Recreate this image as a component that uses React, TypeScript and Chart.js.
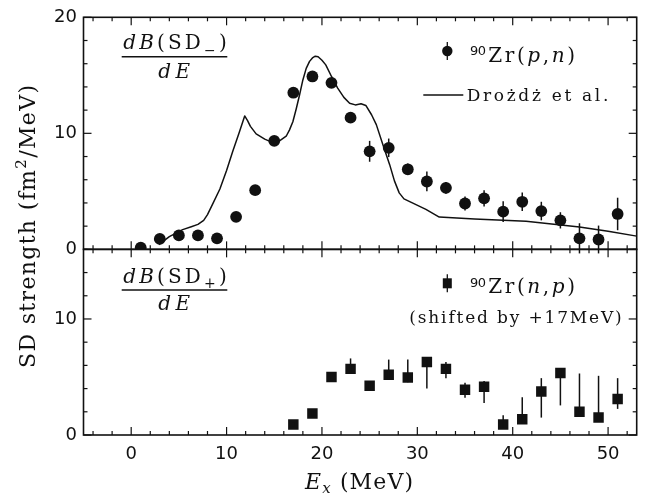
import React, { useEffect, useRef } from 'react';
import { Chart, registerables } from 'chart.js';

Chart.register(...registerables);

// ---- data ----
const pnEnergy = [1, 3, 5, 7, 9, 11, 13, 15, 17, 19, 21, 23, 25, 27, 29, 31, 33, 35, 37, 39, 41, 43, 45, 47, 49, 51];
const pnStrength = [0.15, 0.9, 1.2, 1.2, 0.95, 2.8, 5.1, 9.35, 13.5, 14.9, 14.35, 11.35, 8.45, 8.75, 6.9, 5.85, 5.3, 3.95, 4.4, 3.25, 4.1, 3.3, 2.5, 0.95, 0.85, 3.05];
const pnError = [0.2, 0.2, 0.2, 0.2, 0.2, 0.3, 0.3, 0.3, 0.3, 0.3, 0.3, 0.4, 0.9, 0.8, 0.5, 0.85, 0.5, 0.6, 0.7, 0.9, 0.8, 0.8, 0.7, 1.3, 1.2, 1.4];

const npEnergy = [17, 19, 21, 23, 25, 27, 29, 31, 33, 35, 37, 39, 41, 43, 45, 47, 49, 51];
const npStrength = [0.9, 1.85, 5.0, 5.7, 4.25, 5.2, 4.95, 6.3, 5.7, 3.9, 4.15, 0.9, 1.35, 3.75, 5.35, 2.0, 1.5, 3.1];
const npErrUp = [0.2, 0.2, 0.3, 0.9, 0.3, 1.3, 1.55, 0.4, 0.6, 0.6, 0.5, 0.8, 1.9, 1.15, 0.4, 3.3, 3.6, 1.8];
const npErrDown = [0.2, 0.2, 0.3, 0.3, 0.3, 0.4, 0.4, 2.3, 0.8, 0.7, 1.4, 0.3, 0.3, 2.25, 2.8, 0.3, 0.3, 0.85];

const theoryEnergy = [2.9, 4.0, 5.4, 6.3, 7.0, 7.6, 8.0, 8.6, 9.3, 10.0, 10.65, 11.3, 11.9, 12.2, 12.5, 13.1, 14.0, 14.85, 15.55, 16.25, 16.6, 16.95, 17.3, 17.65, 18.0, 18.35, 18.7, 19.0, 19.3, 19.6, 20.0, 20.4, 21.0, 21.65, 22.3, 22.9, 23.5, 24.1, 24.6, 25.2, 25.7, 26.4, 27.1, 27.6, 28.1, 28.6, 30.9, 32.3, 36.0, 41.4, 47.0, 50.0, 53.0];
const theoryStrength = [0.4, 1.1, 1.7, 1.95, 2.15, 2.5, 3.0, 4.0, 5.2, 6.8, 8.45, 10.0, 11.5, 11.1, 10.6, 9.95, 9.5, 9.2, 9.35, 9.75, 10.3, 11.0, 12.1, 13.3, 14.6, 15.6, 16.2, 16.5, 16.65, 16.6, 16.3, 15.9, 14.9, 13.9, 13.1, 12.6, 12.45, 12.55, 12.4, 11.6, 10.75, 9.0, 7.3, 5.9, 4.87, 4.35, 3.44, 2.78, 2.62, 2.43, 1.92, 1.57, 1.14];

const xTickValues = [0, 10, 20, 30, 40, 50];
const topTickValues = [0, 10, 20];
const bottomTickValues = [0, 10];

const X_MIN = -5;
const X_MAX = 53;
const TOP_MAX = 20;
const BOTTOM_MAX = 16;
const MINOR_STEP = 2;

const INK = '#111';
const SERIF = '"DejaVu Serif", serif';
const SANS = '"DejaVu Sans", sans-serif';

type Run = { t: string; f: string; dy?: number };

function naturalWidth(ctx: CanvasRenderingContext2D, runs: Run[]) {
  let w = 0;
  let n = 0;
  for (const r of runs) {
    ctx.font = r.f;
    for (const ch of Array.from(r.t)) {
      w += ctx.measureText(ch).width;
      n += 1;
    }
  }
  return { w, n };
}

function drawFit(ctx: CanvasRenderingContext2D, runs: Run[], x0: number, x1: number, y: number) {
  const { w, n } = naturalWidth(ctx, runs);
  const ls = n > 1 ? (x1 - x0 - w) / (n - 1) : 0;
  let x = x0;
  ctx.textAlign = 'left';
  ctx.textBaseline = 'alphabetic';
  for (const r of runs) {
    ctx.font = r.f;
    for (const ch of Array.from(r.t)) {
      ctx.fillText(ch, x, y + (r.dy || 0));
      x += ctx.measureText(ch).width + ls;
    }
  }
}

function seg(ctx: CanvasRenderingContext2D, x1: number, y1: number, x2: number, y2: number) {
  ctx.beginPath();
  ctx.moveTo(x1, y1);
  ctx.lineTo(x2, y2);
  ctx.stroke();
}

const errorBarPlugin = {
  id: 'errorBars',
  afterDatasetsDraw(chart: any) {
    const ctx: CanvasRenderingContext2D = chart.ctx;
    const xs = chart.scales.x;
    const yt = chart.scales.y;
    const yb = chart.scales.y2;
    ctx.save();
    ctx.strokeStyle = INK;
    ctx.lineWidth = 1.5;
    pnEnergy.forEach((e, i) => {
      const px = xs.getPixelForValue(e);
      seg(ctx, px, yt.getPixelForValue(pnStrength[i] - pnError[i]), px, yt.getPixelForValue(pnStrength[i] + pnError[i]));
    });
    npEnergy.forEach((e, i) => {
      const px = xs.getPixelForValue(e);
      seg(ctx, px, yb.getPixelForValue(npStrength[i] - npErrDown[i]), px, yb.getPixelForValue(npStrength[i] + npErrUp[i]));
    });
    ctx.restore();
  },
};

const framePlugin = {
  id: 'frameAndText',
  afterDraw(chart: any) {
    const ctx: CanvasRenderingContext2D = chart.ctx;
    const xs = chart.scales.x;
    const yt = chart.scales.y;
    const yb = chart.scales.y2;
    const L = xs.left;
    const R = xs.right;
    ctx.save();
    ctx.strokeStyle = INK;
    ctx.fillStyle = INK;
    for (const ys of [yt, yb]) {
      ctx.lineWidth = 1.6;
      ctx.strokeRect(L, ys.top, R - L, ys.bottom - ys.top);
      ctx.lineWidth = 1.2;
      for (let v = Math.ceil(X_MIN / MINOR_STEP) * MINOR_STEP; v <= X_MAX; v += MINOR_STEP) {
        const px = xs.getPixelForValue(v);
        const len = v % 10 === 0 ? 8 : 4;
        seg(ctx, px, ys.top, px, ys.top + len);
        seg(ctx, px, ys.bottom, px, ys.bottom - len);
      }
      for (let v = 0; v <= ys.max; v += MINOR_STEP) {
        const py = ys.getPixelForValue(v);
        const len = v % 10 === 0 ? 8 : 4;
        seg(ctx, L, py, L + len, py);
        seg(ctx, R, py, R - len, py);
      }
    }

    // fraction labels
    const it20 = `italic 20px ${SERIF}`;
    const rm20 = `20px ${SERIF}`;
    const sub14 = `14px ${SERIF}`;
    drawFit(ctx, [
      { t: 'dB', f: it20 }, { t: '(SD', f: rm20 }, { t: '\u2212', f: sub14, dy: 6 }, { t: ')', f: rm20 },
    ], 123.3, 226.7, 48.5);
    ctx.lineWidth = 1.5;
    seg(ctx, 121.7, 56.7, 227.3, 56.7);
    drawFit(ctx, [{ t: 'dE', f: it20 }], 158.3, 190, 78);

    drawFit(ctx, [
      { t: 'dB', f: it20 }, { t: '(SD', f: rm20 }, { t: '+', f: sub14, dy: 4.5 }, { t: ')', f: rm20 },
    ], 123.3, 226.7, 283.3);
    seg(ctx, 121.7, 290, 227.3, 290);
    drawFit(ctx, [{ t: 'dE', f: it20 }], 158.3, 190, 310);

    // legend top
    const cy1 = 51;
    ctx.beginPath();
    ctx.arc(447.3, cy1, 5.2, 0, Math.PI * 2);
    ctx.fill();
    ctx.lineWidth = 1.3;
    seg(ctx, 447.3, cy1 - 9, 447.3, cy1 + 9);
    drawFit(ctx, [{ t: '90', f: `13px ${SANS}` }], 470, 486, cy1 + 4);
    drawFit(ctx, [
      { t: 'Zr(', f: rm20 }, { t: 'p', f: it20 }, { t: ',', f: rm20 }, { t: 'n', f: it20 }, { t: ')', f: rm20 },
    ], 488.3, 575, cy1 + 10.5);
    ctx.lineWidth = 1.5;
    seg(ctx, 423.3, 95, 463.3, 95);
    drawFit(ctx, [{ t: 'Drożdż et al.', f: `17px ${SERIF}` }], 466.7, 608.3, 100.5);

    // legend bottom
    const cy2 = 283.3;
    ctx.fillRect(447.3 - 4.5, cy2 - 5, 9, 10);
    ctx.lineWidth = 1.3;
    seg(ctx, 447.3, cy2 - 9, 447.3, cy2 + 9);
    drawFit(ctx, [{ t: '90', f: `13px ${SANS}` }], 470, 486, cy2 + 3.5);
    drawFit(ctx, [
      { t: 'Zr(', f: rm20 }, { t: 'n', f: it20 }, { t: ',', f: rm20 }, { t: 'p', f: it20 }, { t: ')', f: rm20 },
    ], 488.3, 575, cy2 + 10);
    drawFit(ctx, [{ t: '(shifted by +17MeV)', f: `17px ${SERIF}` }], 409.3, 621.7, 322.5);

    // x axis title
    drawFit(ctx, [
      { t: 'E', f: `italic 22px ${SERIF}` }, { t: 'x', f: `italic 15px ${SERIF}`, dy: 4 }, { t: ' (MeV)', f: `22px ${SERIF}` },
    ], 305, 413, 489);

    // y axis title
    ctx.save();
    ctx.translate(35, 368);
    ctx.rotate(-Math.PI / 2);
    drawFit(ctx, [
      { t: 'SD strength (fm', f: `22px ${SERIF}` }, { t: '2', f: `15px ${SERIF}`, dy: -9 }, { t: '/MeV)', f: `22px ${SERIF}` },
    ], 0, 283, 0);
    ctx.restore();

    ctx.restore();
  },
};

export default function App() {
  const ref = useRef<HTMLCanvasElement | null>(null);

  useEffect(() => {
    if (!ref.current) return;
    const tickFont = { family: SANS, size: 18 };
    const chart = new Chart(ref.current, {
      type: 'scatter',
      data: {
        datasets: [
          {
            label: 'Drożdż et al.',
            data: theoryEnergy.map((x, i) => ({ x, y: theoryStrength[i] })),
            yAxisID: 'y',
            showLine: true,
            borderColor: INK,
            borderWidth: 1.5,
            borderJoinStyle: 'round',
            pointRadius: 0,
            tension: 0,
            fill: false,
          },
          {
            label: '90Zr(p,n)',
            data: pnEnergy.map((x, i) => ({ x, y: pnStrength[i] })),
            yAxisID: 'y',
            pointStyle: 'circle',
            pointRadius: 5.9,
            pointBorderWidth: 0,
            backgroundColor: INK,
            borderColor: INK,
          },
          {
            label: '90Zr(n,p)',
            data: npEnergy.map((x, i) => ({ x, y: npStrength[i] })),
            yAxisID: 'y2',
            pointStyle: 'rect',
            pointRadius: 7.4,
            pointBorderWidth: 0,
            backgroundColor: INK,
            borderColor: INK,
          },
        ],
      },
      options: {
        animation: false,
        responsive: false,
        events: [],
        layout: { padding: { left: 0, right: 10.3, top: 15.7, bottom: 0 } },
        plugins: { legend: { display: false }, tooltip: { enabled: false } },
        scales: {
          x: {
            type: 'linear',
            position: 'bottom',
            min: X_MIN,
            max: X_MAX,
            grid: { display: false, drawTicks: false },
            border: { display: false },
            ticks: { font: tickFont, color: INK, padding: 9 },
            afterBuildTicks: (s: any) => { s.ticks = xTickValues.map((v) => ({ value: v })); },
            afterFit: (s: any) => { s.height = 62; },
          },
          y: {
            type: 'linear',
            position: 'left',
            stack: 'panels',
            stackWeight: TOP_MAX,
            weight: 1,
            min: 0,
            max: TOP_MAX,
            grid: { display: false, drawTicks: false },
            border: { display: false },
            ticks: { font: tickFont, color: INK, padding: 6.5 },
            afterBuildTicks: (s: any) => { s.ticks = topTickValues.map((v) => ({ value: v })); },
            afterFit: (s: any) => { s.width = 83.5; },
          },
          y2: {
            type: 'linear',
            position: 'left',
            stack: 'panels',
            stackWeight: BOTTOM_MAX,
            weight: 0,
            min: 0,
            max: BOTTOM_MAX,
            grid: { display: false, drawTicks: false },
            border: { display: false },
            ticks: { font: tickFont, color: INK, padding: 6.5 },
            afterBuildTicks: (s: any) => { s.ticks = bottomTickValues.map((v) => ({ value: v })); },
            afterFit: (s: any) => { s.width = 83.5; },
          },
        },
      } as any,
      plugins: [errorBarPlugin, framePlugin],
    });
    return () => chart.destroy();
  }, []);

  return (
    <div style={{ position: 'absolute', left: 0, top: 0, width: 647, height: 497, background: '#fff' }}>
      <canvas ref={ref} width={647} height={497} style={{ width: 647, height: 497, display: 'block' }} />
    </div>
  );
}
